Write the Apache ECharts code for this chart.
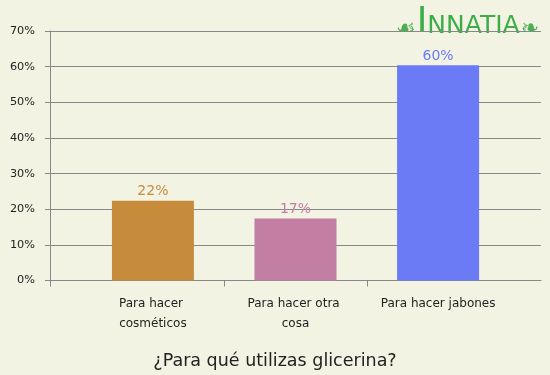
<!DOCTYPE html>
<html>
<head>
<meta charset="utf-8">
<script src="https://cdn.jsdelivr.net/npm/echarts@6/dist/echarts.min.js"></script>
<style>
html,body{margin:0;padding:0;background:#f3f3e3;}
#c{width:550px;height:375px;}
</style>
</head>
<body>
<div id="c"></div>
<script>
const categories = ['Para hacer cosméticos', 'Para hacer otra cosa', 'Para hacer jabones'];
const values = [22.4, 17.4, 60.4];
const barColors = ['#c68c3c', '#c27fa3', '#6a7bf5'];
const yTicks = [0, 10, 20, 30, 40, 50, 60, 70];
const titleText = '¿Para qué utilizas glicerina?';

const FONT = 'DejaVu Sans';
const chart = echarts.init(document.getElementById('c'), null, {renderer: 'canvas'});
const gridTop = 31, gridBottom = 94.5;
const band = 142.6;
chart.setOption({
  backgroundColor: '#f3f3e3',
  animation: false,
  textStyle: {fontFamily: FONT},
  title: {
    text: titleText,
    left: 'center',
    top: 347,
    textStyle: {fontFamily: FONT, fontSize: 17.5, fontWeight: 'normal', color: '#222'}
  },
  graphic: [{
    type: 'text',
    left: 396,
    top: 5,
    style: {
      text: '{o|☙}{b|I}{s|NNATIA}{o|❧}',
      rich: {
        o: {fontSize: 22, fill: '#4cb050', fontFamily: FONT, verticalAlign: 'bottom', padding: [0, 1, 1, 1]},
        b: {fontSize: 36, fill: '#3cae48', fontFamily: FONT, verticalAlign: 'bottom'},
        s: {fontSize: 25, fill: '#3cae48', fontFamily: FONT, verticalAlign: 'bottom', padding: [0, 0, 2, 0]}
      }
    }
  }],
  grid: [
    {left: 50, right: 9, top: gridTop, bottom: gridBottom, outerBoundsMode: 'none'},
    {left: 81.6, width: band * (categories.length + 1), top: gridTop, bottom: gridBottom, outerBoundsMode: 'none'}
  ],
  xAxis: [
    {
      gridIndex: 0, type: 'value', min: 0, max: 1,
      axisLine: {show: true, onZero: false, lineStyle: {color: '#888', width: 1}},
      axisTick: {show: true, length: 6, customValues: [0], lineStyle: {color: '#888'}},
      axisLabel: {show: false}, splitLine: {show: false}
    },
    {
      gridIndex: 1, type: 'category', data: categories, max: categories.length,
      axisLine: {show: false},
      axisTick: {show: true, length: 6, lineStyle: {color: '#888'},
        interval: function (i) { return i === 1 || i === 2; }},
      axisLabel: {fontFamily: FONT, fontSize: 12, color: '#222', margin: 13,
        lineHeight: 20, width: 120, overflow: 'break', interval: 0,
        formatter: function (v) { return v == null ? '' : v; }}
    }
  ],
  yAxis: [
    {
      gridIndex: 0, type: 'value', min: yTicks[0], max: yTicks[yTicks.length - 1], interval: 10,
      axisLine: {show: true, lineStyle: {color: '#888', width: 1}},
      axisTick: {show: true, length: 5, lineStyle: {color: '#888'}},
      axisLabel: {fontFamily: FONT, fontSize: 11.3, color: '#222', margin: 15, formatter: '{value}%'},
      splitLine: {show: true, lineStyle: {color: '#888', width: 1}}
    },
    {
      gridIndex: 1, type: 'value', min: yTicks[0], max: yTicks[yTicks.length - 1], interval: 10,
      show: false, splitLine: {show: false}
    }
  ],
  series: [{
    type: 'bar',
    xAxisIndex: 1, yAxisIndex: 1,
    barWidth: 82,
    data: values.map((v, i) => ({
      value: v,
      itemStyle: {color: barColors[i]},
      label: {color: barColors[i]}
    })),
    label: {
      show: true, position: 'top', distance: 2,
      fontFamily: FONT, fontSize: 14,
      formatter: p => Math.round(p.value) + '%'
    }
  }]
});
</script>
</body>
</html>
